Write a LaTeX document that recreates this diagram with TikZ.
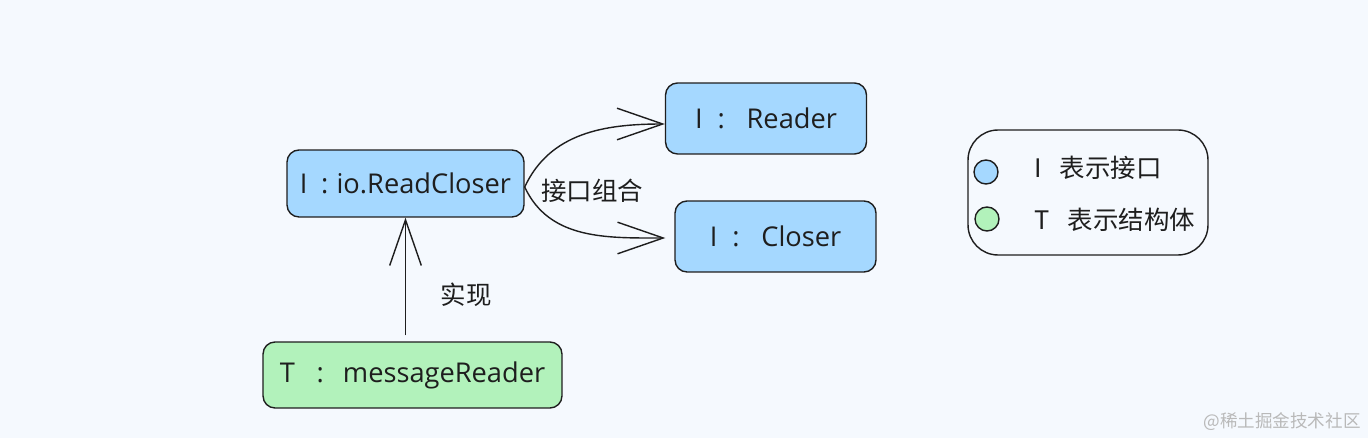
\documentclass[tikz,border=0pt]{standalone}
\usepackage{fontspec}
\setmainfont{Noto Sans CJK SC}
\newfontfamily\boxfont{Open Sans}
\usetikzlibrary{arrows.meta,positioning}
\definecolor{bgc}{HTML}{F5F9FE}
\definecolor{ifill}{HTML}{A5D8FF}
\definecolor{tfill}{HTML}{B2F2BB}
\definecolor{ink}{HTML}{1E1E1E}

\begin{document}
\begin{tikzpicture}[x=0.02cm, y=-0.02cm, >={Straight Barb[length=26pt,width=18pt]},
        line width=0.8pt, draw=ink, text=ink,
        txt/.style={font=\fontsize{14.5}{17}\selectfont},
        iface/.style={font=\boxfont\fontsize{15.5}{18}\selectfont,rectangle,rounded corners=0.24cm,draw=ink,fill=ifill,inner sep=0pt},
        impl/.style={font=\boxfont\fontsize{15.5}{18}\selectfont,rectangle,rounded corners=0.24cm,draw=ink,fill=tfill,inner sep=0pt},
        dot/.style={circle,draw=ink,minimum size=0.48cm,inner sep=0pt},
        legendbox/.style={rectangle,rounded corners=0.6cm,draw=ink,minimum width=4.8cm,minimum height=2.5cm}]
        \fill[bgc] (0,0) rectangle (1368,438);
        \useasboundingbox (0,0) rectangle (1368,438);
        \node[iface,minimum width=4.74cm,minimum height=1.34cm] at (405.5,183.5) (rc) {I\hspace{0.5em}:\hspace{0.3em}io.ReadCloser};
        \node[iface,minimum width=4.02cm,minimum height=1.42cm] at (766,118.5) (reader) {I\hspace{0.55em}:\hspace{0.8em}Reader};
        \node[iface,minimum width=4.02cm,minimum height=1.42cm] at (775.5,236.5) (closer) {I\hspace{0.55em}:\hspace{0.8em}Closer};
        \node[impl,minimum width=5.98cm,minimum height=1.32cm] at (412.5,375) (msg) {T\hspace{0.8em}:\hspace{0.7em}messageReader};
        \node[txt] at (592,191) (combo) {接口组合};
        \node[txt] at (466,295) (realize) {实现};
        % legend
        \node[legendbox] at (1088,192.5) (legend) {};
        \node[dot,fill=ifill] at (986,172) (idot) {};
        \node[dot,fill=tfill] at (987,219) (tdot) {};
        \node[txt,anchor=west] at (1028,168) (itext) {I\hspace{0.7em}表示接口};
        \node[txt,anchor=west] at (1028,220) (ttext) {T\hspace{0.7em}表示结构体};
        \node[font=\fontsize{10}{12}\selectfont,text=gray!55] at (1282,422) (mark) {@稀土掘金技术社区};
        \draw[->] ([yshift=-0.07cm]rc.east) to[out=65,in=180] ([yshift=-0.11cm]reader.west);
        \draw[->] ([yshift=-0.07cm]rc.east) to[out=-65,in=180] ([xshift=-0.18cm,yshift=-0.03cm]closer.west);
        \draw[->,shorten <=0.12cm] (msg.north -| rc.south) -- (rc.south);
      \end{tikzpicture}
\end{document}
